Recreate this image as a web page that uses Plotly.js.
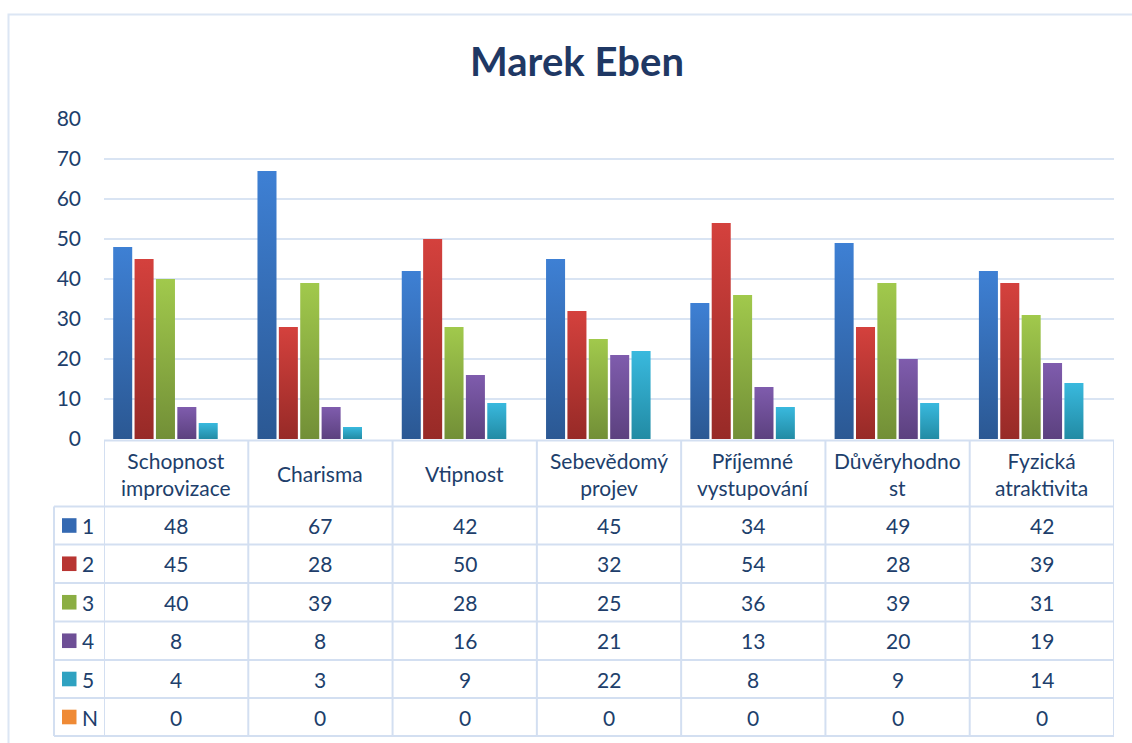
<!DOCTYPE html>
<html>
<head>
<meta charset="utf-8">
<script src="https://cdn.plot.ly/plotly-3.0.1.min.js"></script>
<style>
  html, body { margin: 0; padding: 0; background: #ffffff; }
  #chart { width: 1132px; height: 743px; }
</style>
</head>
<body>
<div id="chart"></div>
<script>
// ---------- DATA ----------
const categories = ["Schopnost improvizace", "Charisma", "Vtipnost", "Sebevědomý projev", "Příjemné vystupování", "Důvěryhodnost", "Fyzická atraktivita"];
const categoryLabels = ["Schopnost<br>improvizace", "Charisma", "Vtipnost", "Sebevědomý<br>projev", "Příjemné<br>vystupování", "Důvěryhodno<br>st", "Fyzická<br>atraktivita"];
const seriesNames = ["1", "2", "3", "4", "5", "N"];
const s1 = [48, 67, 42, 45, 34, 49, 42];
const s2 = [45, 28, 50, 32, 54, 28, 39];
const s3 = [40, 39, 28, 25, 36, 39, 31];
const s4 = [8, 8, 16, 21, 13, 20, 19];
const s5 = [4, 3, 9, 22, 8, 9, 14];
const sN = [0, 0, 0, 0, 0, 0, 0];
const seriesValues = [s1, s2, s3, s4, s5, sN];
const yTicks = [0, 10, 20, 30, 40, 50, 60, 70, 80];

// ---------- STYLE ----------
const W = 1132, H = 743;
const colorsMid = ["#3469B2", "#B83532", "#8BAE43", "#6E4F96", "#2FA2C1", "#EF8A35"];
const gradTop = ["#3E80D4", "#D4413D", "#A1C94C", "#7F5CAD", "#39B9DE", "#FA9A48"];
const gradBot = ["#2B5893", "#972A27", "#728F37", "#5C417F", "#228BA4", "#D7752A"];
const textColor = "#203E6B";
const gridColor = "#D9E4F3";
const tableLine = "#D3DFF1";
const FONT = "Lato, 'Open Sans', sans-serif";
const TXT = 21;

const px = x => x / W;
const py = y => 1 - y / H;

// plot area pixel bounds
const plotL = 104, plotR = 1114, plotT = 119, plotB = 439;
// table geometry (pixels)
const tableLeft = 54;
const headerTop = 440.5, headerBot = 506.5;
const rowBounds = [506.5, 544.5, 583, 621.5, 660, 698, 736];

const traces = seriesNames.map((name, i) => ({
  type: "bar",
  name: name,
  x: categories,
  y: seriesValues[i],
  marker: { color: colorsMid[i], line: { width: 0 } },
  hoverinfo: "none",
  showlegend: false
}));

const shapes = [];
const annotations = [];

// frame
shapes.push({ type: "rect", xref: "paper", yref: "paper", x0: px(8.5), x1: px(1140), y0: py(760), y1: py(14.5),
  line: { color: "#DCE6F4", width: 2 }, fillcolor: "rgba(0,0,0,0)", layer: "below" });

// table horizontal lines
shapes.push({ type: "line", xref: "x", yref: "paper", x0: -0.5, x1: categories.length - 0.5, y0: py(headerTop), y1: py(headerTop),
  line: { color: tableLine, width: 2 } });
rowBounds.forEach(yb => {
  shapes.push({ type: "line", xref: "paper", yref: "paper", x0: px(tableLeft), x1: px(plotR), y0: py(yb), y1: py(yb),
    line: { color: tableLine, width: 2 } });
});
// table vertical lines
shapes.push({ type: "line", xref: "paper", yref: "paper", x0: px(tableLeft), x1: px(tableLeft), y0: py(rowBounds[0]), y1: py(rowBounds[rowBounds.length - 1]),
  line: { color: tableLine, width: 2 } });
for (let i = 0; i <= categories.length; i++) {
  shapes.push({ type: "line", xref: "x", yref: "paper", x0: i - 0.5, x1: i - 0.5, y0: py(headerTop), y1: py(rowBounds[rowBounds.length - 1]),
    line: { color: tableLine, width: 2 } });
}

// header labels
categories.forEach((c, j) => {
  annotations.push({ xref: "x", yref: "paper", x: c, y: py((headerTop + headerBot) / 2), text: categoryLabels[j],
    showarrow: false, xanchor: "center", yanchor: "middle", font: { family: FONT, size: TXT, color: textColor } });
});

// rows
seriesNames.forEach((name, i) => {
  const yc = (rowBounds[i] + rowBounds[i + 1]) / 2;
  shapes.push({ type: "rect", xref: "paper", yref: "paper", x0: px(62), x1: px(76.5), y0: py(yc + 7.3), y1: py(yc - 7.3),
    fillcolor: colorsMid[i], line: { width: 0 } });
  annotations.push({ xref: "paper", yref: "paper", x: px(80), y: py(yc), text: name, showarrow: false,
    xanchor: "left", yanchor: "middle", font: { family: FONT, size: TXT, color: textColor } });
  categories.forEach((c, j) => {
    annotations.push({ xref: "x", yref: "paper", x: c, y: py(yc), text: String(seriesValues[i][j]), showarrow: false,
      xanchor: "center", yanchor: "middle", font: { family: FONT, size: TXT, color: textColor } });
  });
});

const layout = {
  width: W, height: H,
  margin: { l: 0, r: 0, t: 0, b: 0, pad: 0 },
  paper_bgcolor: "#ffffff",
  plot_bgcolor: "rgba(0,0,0,0)",
  barmode: "group",
  bargap: 0.111,
  bargroupgap: 0.11,
  title: { text: "<b>Marek Eben</b>", x: 577 / W, xanchor: "center", y: 1 - 62 / H, yanchor: "middle",
    xref: "paper", yref: "container", font: { family: FONT, size: 40, color: "#1F3864" } },
  xaxis: { domain: [px(plotL), px(plotR)], range: [-0.5, categories.length - 0.5], showticklabels: false,
    showgrid: false, zeroline: false, showline: false, ticks: "", fixedrange: true },
  yaxis: { domain: [py(plotB), py(plotT)], range: [0, 80], tickvals: yTicks, ticktext: yTicks.map(String),
    showgrid: true, gridcolor: gridColor, gridwidth: 2, zeroline: false, showline: false, ticks: "",
    ticklabelstandoff: 22, tickfont: { family: FONT, size: TXT, color: textColor }, fixedrange: true },
  shapes: shapes,
  annotations: annotations,
  showlegend: false
};

Plotly.newPlot("chart", traces, layout, { displayModeBar: false, staticPlot: true }).then(gd => {
  // vertical gradients on the bars, like the original
  const svg = gd.querySelector("svg.main-svg");
  const NS = "http://www.w3.org/2000/svg";
  let defs = svg.querySelector("defs");
  if (!defs) { defs = document.createElementNS(NS, "defs"); svg.insertBefore(defs, svg.firstChild); }
  seriesNames.forEach((n, i) => {
    const g = document.createElementNS(NS, "linearGradient");
    g.setAttribute("id", "barGrad" + i);
    g.setAttribute("x1", "0"); g.setAttribute("y1", "0"); g.setAttribute("x2", "0"); g.setAttribute("y2", "1");
    const a = document.createElementNS(NS, "stop"); a.setAttribute("offset", "0"); a.setAttribute("stop-color", gradTop[i]);
    const b = document.createElementNS(NS, "stop"); b.setAttribute("offset", "1"); b.setAttribute("stop-color", gradBot[i]);
    g.appendChild(a); g.appendChild(b); defs.appendChild(g);
  });
  const traceGroups = svg.querySelectorAll(".barlayer .trace");
  traceGroups.forEach((tg, i) => {
    tg.querySelectorAll(".point path").forEach(p => { p.style.fill = "url(#barGrad" + i + ")"; });
  });
});
</script>
</body>
</html>
